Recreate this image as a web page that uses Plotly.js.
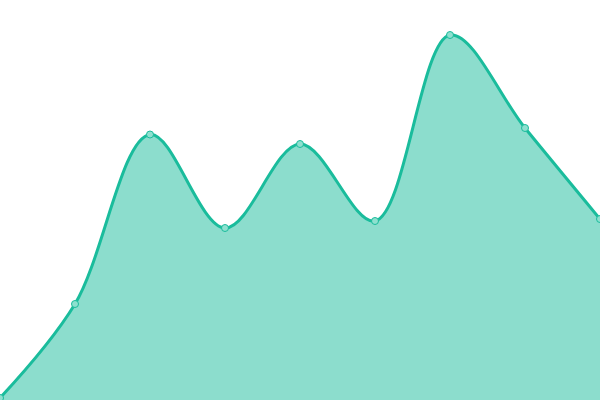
<!DOCTYPE html>
<html><head><meta charset="utf-8">
<script src="https://cdn.plot.ly/plotly-3.0.1.min.js"></script>
<style>html,body{margin:0;padding:0;background:#fff;}#chart{width:600px;height:400px;}</style>
</head><body><div id="chart"></div>
<script>
const categories = [0, 1, 2, 3, 4, 5, 6, 7, 8];
const values = [2, 96, 265.5, 172, 256, 179, 365, 272, 181];

Plotly.newPlot('chart', [{
  x: categories,
  y: values,
  type: 'scatter',
  mode: 'lines+markers',
  fill: 'tozeroy',
  fillcolor: 'rgba(26,188,156,0.5)',
  line: {shape: 'spline', smoothing: 1, color: '#1abc9c', width: 3},
  marker: {size: 7, color: '#8ee0cf', line: {color: '#1abc9c', width: 1}},
  cliponaxis: false,
  hoverinfo: 'none'
}], {
  width: 600, height: 400,
  margin: {l: 0, r: 0, t: 0, b: 0},
  paper_bgcolor: '#fff', plot_bgcolor: '#fff',
  showlegend: false,
  xaxis: {range: [0, 8], visible: false, fixedrange: true},
  yaxis: {range: [0, 400], visible: false, fixedrange: true}
}, {displayModeBar: false, staticPlot: true});
</script></body></html>
